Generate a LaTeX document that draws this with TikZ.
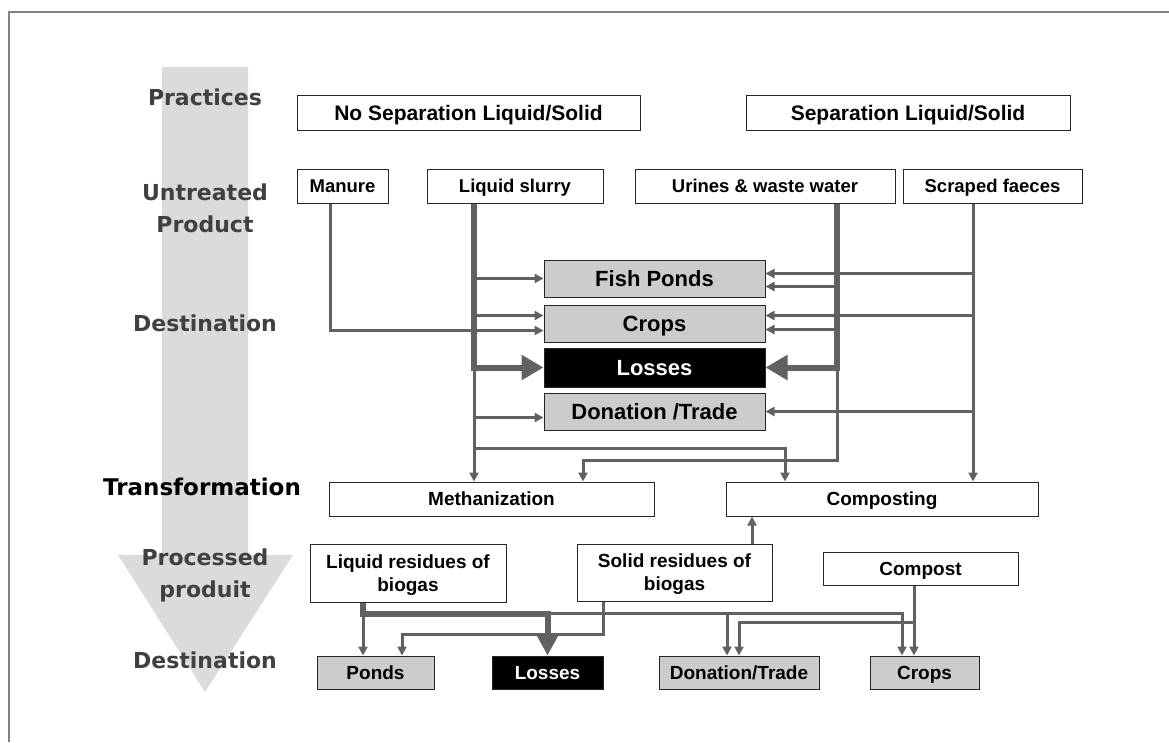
\documentclass[tikz,border=0pt]{standalone}
\usepackage{fontspec}
\setmainfont{Liberation Sans}
\newfontfamily\sidefont{DejaVu Sans}
\usetikzlibrary{arrows.meta}

\begin{document}
\begin{tikzpicture}[x=1pt, y=-1pt,
  box/.style={draw=black!85, line width=1pt, fill=white, inner sep=0pt, align=center,
    text depth=0pt, minimum height=34pt, font=\bfseries\fontsize{19}{23}\selectfont},
  greybox/.style={box, fill=black!20},
  blackbox/.style={box, fill=black, text=white},
  side/.style={font=\sidefont\bfseries\fontsize{22}{32}\selectfont, text=black!75, align=center},
  flow/.style={draw=black!62, line width=3pt, -{Triangle[length=9pt,width=9pt]}},
  bigflow/.style={draw=black!62, line width=6pt, -{Triangle[length=22pt,width=24pt]}}]
\useasboundingbox (0,0) rectangle (1169,742);
\draw[black!50, line width=1.5pt] (9,742) -- (9,12) -- (1169,12);

% grey arrow on the left
\fill[black!14] (162,67) -- (248,67) -- (248,555) -- (293,555) -- (205,692)
  -- (118,555) -- (162,555) -- cycle;
\node[side] (s1) at (205,97) {Practices};
\node[side] (s2) at (205,208) {Untreated\\Product};
\node[side] (s3) at (205,323) {Destination};
\node[side, text=black, font=\sidefont\bfseries\fontsize{23}{28}\selectfont] (s4) at (202,487) {Transformation};
\node[side] (s5) at (205,575) {Processed\\produit};
\node[side] (s6) at (205,660) {Destination};

\node[box, minimum width=343pt, minimum height=35pt, font=\bfseries\fontsize{21}{25}\selectfont] (nosep) at (468.5,112.5) {No Separation Liquid/Solid};
\node[box, minimum width=324pt, minimum height=35pt, font=\bfseries\fontsize{21}{25}\selectfont] (sep) at (908,112.5) {Separation Liquid/Solid};

\node[box, minimum width=91pt, font=\bfseries\fontsize{18.5}{22}\selectfont] (man) at (342.5,186) {Manure};
\node[box, minimum width=176pt, font=\bfseries\fontsize{18.5}{22}\selectfont] (slu) at (515,186) {Liquid slurry};
\node[box, minimum width=260pt, font=\bfseries\fontsize{18.5}{22}\selectfont] (uri) at (765,186) {Urines \& waste water};
\node[box, minimum width=179pt, font=\bfseries\fontsize{18.5}{22}\selectfont] (fae) at (992.5,186) {Scraped faeces};

\node[greybox, minimum width=221pt, minimum height=37pt, font=\bfseries\fontsize{22}{26}\selectfont] (fp) at (654.5,278.5) {Fish Ponds};
\node[greybox, minimum width=221pt, minimum height=37pt, font=\bfseries\fontsize{22}{26}\selectfont] (cr) at (654.5,323.5) {Crops};
\node[blackbox, minimum width=221pt, minimum height=39pt, font=\bfseries\fontsize{22}{26}\selectfont] (lo) at (654.5,367.5) {Losses};
\node[greybox, minimum width=221pt, minimum height=37pt, font=\bfseries\fontsize{22}{26}\selectfont] (dt) at (654.5,411.5) {Donation /Trade};

\node[box, minimum width=325pt] (me) at (491.5,499) {Methanization};
\node[box, minimum width=312pt] (co) at (882,499) {Composting};

\node[box, minimum width=196pt, minimum height=58pt] (lr) at (408,573) {Liquid residues of\\biogas};
\node[box, minimum width=195pt, minimum height=57pt] (sr) at (674.5,572.5) {Solid residues of\\biogas};
\node[box, minimum width=195pt, minimum height=33pt] (cp) at (920.5,568.5) {Compost};

\node[greybox, minimum width=117pt, minimum height=33pt] (po) at (375.5,672.5) {Ponds};
\node[blackbox, minimum width=111pt, minimum height=33pt] (lo2) at (547.5,672.5) {Losses};
\node[greybox, minimum width=160pt, minimum height=33pt] (dt2) at (739,672.5) {Donation/Trade};
\node[greybox, minimum width=109pt, minimum height=33pt] (cr2) at (924.5,672.5) {Crops};

% arrow ends at the boxes
\coordinate (fpR1) at ([yshift=5pt]fp.east);
\coordinate (fpR2) at ([yshift=-8pt]fp.east);
\coordinate (crL1) at ([yshift=8pt]cr.west);
\coordinate (crL2) at ([yshift=-7pt]cr.west);
\coordinate (crR1) at ([yshift=8pt]cr.east);
\coordinate (crR2) at ([yshift=-6pt]cr.east);
\coordinate (dtL) at ([yshift=-6pt]dt.west);

% untreated products
\coordinate (xm) at ([xshift=-12.5pt]man.south);
\coordinate (xs) at ([xshift=-41pt]slu.south);
\coordinate (xu) at ([xshift=72pt]uri.south);
\coordinate (xf) at ([xshift=-19.5pt]fae.south);
\coordinate (kS) at ([yshift=-18pt]dt.south);
\coordinate (kU) at ([yshift=-30pt]dt.south);
\coordinate (mU) at ([xshift=91.5pt]me.north);
\coordinate (cS) at ([xshift=-97pt]co.north);

\draw[flow] (xm) |- (crL2);
\draw[flow] (xs) -- (xs |- me.north);
\draw[bigflow] (xs) |- (lo.west);
\draw[flow] (xs |- fp.west) -- (fp.west);
\draw[flow] (xs |- crL1) -- (crL1);
\draw[flow] (xs |- dtL) -- (dtL);
\draw[flow] (xs |- kS) -| (cS);

\draw[flow] (xu) -- (xu |- kU) -| (mU);
\draw[bigflow] (xu) |- (lo.east);
\draw[flow] (xu |- fpR2) -- (fpR2);
\draw[flow] (xu |- crR2) -- (crR2);

\draw[flow] (xf) -- (xf |- co.north);
\draw[flow] (xf |- fpR1) -- (fpR1);
\draw[flow] (xf |- crR1) -- (crR1);
\draw[flow] (xf |- dt.east) -- (dt.east);

% processed products
\coordinate (xsr) at ([xshift=77.5pt]sr.north);
\draw[flow] (xsr) -- (xsr |- co.south);

\coordinate (xl) at ([xshift=-45pt]lr.south);
\coordinate (kL) at ([yshift=-11pt]lr.south);
\coordinate (xr) at ([xshift=-71.5pt]sr.south);
\coordinate (kR) at ([yshift=-33pt]sr.south);
\coordinate (xc) at ([xshift=-6.5pt]cp.south);
\coordinate (kC) at ([yshift=-37pt]cp.south);
\coordinate (pR) at ([xshift=26.5pt]po.north);
\coordinate (dA) at ([xshift=-12pt]dt2.north);
\coordinate (cA) at ([xshift=-22.5pt]cr2.north);
\coordinate (cB) at ([xshift=-10.5pt]cr2.north);

\draw[flow] (kL -| lo2.north) -| (cA);
\draw[flow] (kL -| dA) -- (dA);
\draw[flow] (xl |- kL) -- (xl |- po.north);
\draw[bigflow, -{Triangle[length=20pt,width=20pt]}] (xl) |- (kL -| lo2.north) -- (lo2.north);
\draw[flow] (xr) -- (xr |- kR) -| (pR);
\draw[flow] (xc) -- (cB);
\draw[flow] (xc |- kC) -| (dt2.north);
\end{tikzpicture}
\end{document}
